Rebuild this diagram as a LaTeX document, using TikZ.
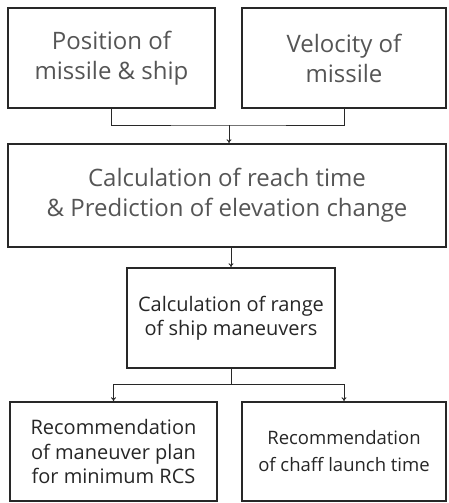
\documentclass[tikz,border=0pt]{standalone}
\usepackage{fontspec}
\setmainfont{Open Sans}
\usepackage{tikz}
\usetikzlibrary{arrows.meta, positioning}

\definecolor{BoxLine}{RGB}{40, 40, 40}
\definecolor{TextGray}{RGB}{85, 85, 85}

\begin{document}
\begin{tikzpicture}[x=1pt, y=-1pt]
        \tikzstyle{block} = [rectangle, draw=BoxLine, line width=1.6pt, inner sep=0pt, align=center, text=TextGray, font=\fontsize{24}{30}\selectfont]
        \tikzstyle{smallblock} = [block, text=black!85, font=\fontsize{20}{24.5}\selectfont]
        \tikzstyle{arrow} = [-{To[length=4pt, width=5pt]}, line width=0.9pt, BoxLine]
        \tikzstyle{line} = [line width=0.9pt, BoxLine]

        \useasboundingbox (0,0) rectangle (448,503);

        % Inputs
        \node (position) [block, minimum width=207pt, minimum height=100pt] at (111.5,58) {Position of\\missile \& ship};
        \node (velocity) [block, minimum width=204pt, minimum height=100pt] at (344,58) {Velocity of\\missile};

        % Calculation steps
        \node (reach) [block, minimum width=438pt, minimum height=103pt] at (227,195.5) {Calculation of reach time\\\& Prediction of elevation change};
        \node (range) [smallblock, minimum width=208pt, minimum height=100pt] at (231,318) {Calculation of range\\of ship maneuvers};

        % Recommendations
        \node (rcs) [smallblock, minimum width=207pt, minimum height=99pt] at (113.5,451.5) {Recommendation\\of maneuver plan\\for minimum RCS};
        \node (chaff) [smallblock, font=\fontsize{18.5}{27}\selectfont, minimum width=204pt, minimum height=99pt] at (344,451.5) {Recommendation\\of chaff launch time};

        % Arrows
        \coordinate (join) at (229,125);
        \coordinate (split) at (231,384);
        \draw [line] (position.south) |- (join) -| (velocity.south);
        \draw [arrow] (join) -- (join |- reach.north);
        \draw [arrow] (reach.south -| range.north) -- (range.north);
        \draw [line] (range.south) -- (split);
        \draw [arrow] (split) -| (rcs.north);
        \draw [arrow] (split) -| (chaff.north);
    \end{tikzpicture}
\end{document}
